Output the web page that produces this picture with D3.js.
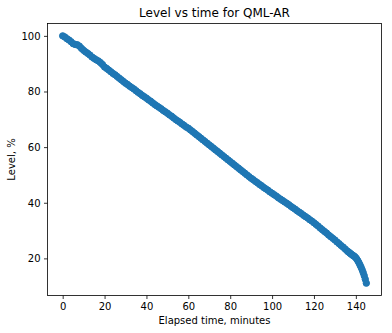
<!DOCTYPE html>
<html>
<head>
<meta charset="utf-8">
<script src="https://cdn.jsdelivr.net/npm/d3@7"></script>
<style>
  html, body { margin: 0; padding: 0; background: #fff; }
  svg { display: block; font-family: "DejaVu Sans", sans-serif; }
</style>
</head>
<body>
<svg id="chart" width="392" height="333"></svg>
<script>
// Elapsed time in minutes: one reading per minute, then every half minute near the end
const minutes = d3.range(0, 136).concat([
  136, 136.5, 137, 137.5, 138, 138.5, 139, 139.5, 140, 140.5,
  141, 141.5, 142, 142.5, 143, 143.5, 144, 144.5, 145
]);

// Tank level (%) for each reading
const level = [
  100.0, 99.6, 99.0, 98.5, 97.9, 97.2, 96.9, 96.8, 96.3, 95.5,
  94.8, 94.2, 93.7, 93.1, 92.4, 91.9, 91.4, 91.0, 90.4, 89.7,
  88.8, 88.3, 87.7, 87.1, 86.5, 86.0, 85.4, 84.8, 84.2, 83.6,
  83.0, 82.5, 81.9, 81.4, 80.9, 80.3, 79.7, 79.2, 78.6, 78.1,
  77.6, 77.0, 76.5, 75.9, 75.3, 74.8, 74.3, 73.8, 73.2, 72.7,
  72.2, 71.6, 71.1, 70.5, 69.9, 69.4, 68.9, 68.3, 67.8, 67.2,
  66.8, 66.2, 65.6, 65.0, 64.4, 63.8, 63.2, 62.6, 62.0, 61.4,
  60.8, 60.2, 59.6, 59.0, 58.4, 57.8, 57.2, 56.6, 56.0, 55.4,
  54.8, 54.2, 53.6, 53.0, 52.4, 51.8, 51.2, 50.6, 50.0, 49.4,
  48.8, 48.3, 47.7, 47.2, 46.6, 46.1, 45.5, 45.0, 44.5, 43.9,
  43.4, 42.9, 42.4, 41.8, 41.3, 40.8, 40.3, 39.8, 39.3, 38.7,
  38.2, 37.7, 37.1, 36.6, 36.1, 35.5, 35.0, 34.5, 33.9, 33.4,
  32.8, 32.2, 31.6, 30.9, 30.3, 29.7, 29.1, 28.4, 27.8, 27.2,
  26.6, 25.9, 25.3, 24.6, 24.0, 23.3,
  22.6, 22.3, 22.0, 21.7, 21.4, 21.1, 20.9, 20.6, 20.2, 19.7,
  19.1, 18.4, 17.6, 16.8, 15.9, 14.9, 13.8, 12.5, 11.1
];

const xTicks = [0, 20, 40, 60, 80, 100, 120, 140];
const yTicks = [20, 40, 60, 80, 100];

const titleText = "Level vs time for QML-AR";
const xLabel = "Elapsed time, minutes";
const yLabel = "Level, %";

const points = minutes.map((m, i) => ({ x: m, y: level[i] }));

// Plot area
const plot = { left: 47.5, right: 381.5, top: 23.5, bottom: 295.5 };
const svg = d3.select("#chart");

// Axis limits padded by 5% of the data span on each side
const pad = (lo, hi) => { const r = hi - lo; return [lo - 0.05 * r, hi + 0.05 * r]; };
const xExt = pad(d3.min(minutes), d3.max(minutes));
const yExt = pad(d3.min(level), d3.max(level));

const x = d3.scaleLinear().domain(xExt).range([plot.left, plot.right]);
const y = d3.scaleLinear().domain(yExt).range([plot.bottom, plot.top]);

const colour = "#1f77b4";

// Markers
svg.append("g")
  .selectAll("circle")
  .data(points)
  .join("circle")
  .attr("cx", d => x(d.x))
  .attr("cy", d => y(d.y))
  .attr("r", 3.2)
  .attr("fill", colour)
  .attr("stroke", colour)
  .attr("stroke-width", 1);

// Axes
const xAxis = d3.axisBottom(x).tickValues(xTicks).tickSize(3.5).tickPadding(3.5).tickFormat(d3.format("d"));
const yAxis = d3.axisLeft(y).tickValues(yTicks).tickSize(3.5).tickPadding(3.5).tickFormat(d3.format("d"));

const gx = svg.append("g").attr("transform", `translate(0,${plot.bottom})`).call(xAxis);
const gy = svg.append("g").attr("transform", `translate(${plot.left},0)`).call(yAxis);

[gx, gy].forEach(g => {
  g.select(".domain").remove();
  g.selectAll(".tick line").attr("stroke", "#000").attr("stroke-width", 0.8);
  g.selectAll(".tick text").attr("fill", "#000").style("font-size", "10px")
    .style("font-family", "'DejaVu Sans', sans-serif");
});
gy.selectAll(".tick text").attr("dy", "0.35em");

// Frame
svg.append("rect")
  .attr("x", plot.left).attr("y", plot.top)
  .attr("width", plot.right - plot.left).attr("height", plot.bottom - plot.top)
  .attr("fill", "none").attr("stroke", "#000").attr("stroke-width", 0.8);

// Title and axis labels
svg.append("text")
  .attr("x", (plot.left + plot.right) / 2).attr("y", 17)
  .attr("text-anchor", "middle")
  .style("font-size", "12px")
  .text(titleText);

svg.append("text")
  .attr("x", (plot.left + plot.right) / 2).attr("y", 324)
  .attr("text-anchor", "middle")
  .style("font-size", "10px")
  .text(xLabel);

svg.append("text")
  .attr("transform", `translate(15,${(plot.top + plot.bottom) / 2}) rotate(-90)`)
  .attr("text-anchor", "middle")
  .style("font-size", "10px")
  .text(yLabel);
</script>
</body>
</html>
